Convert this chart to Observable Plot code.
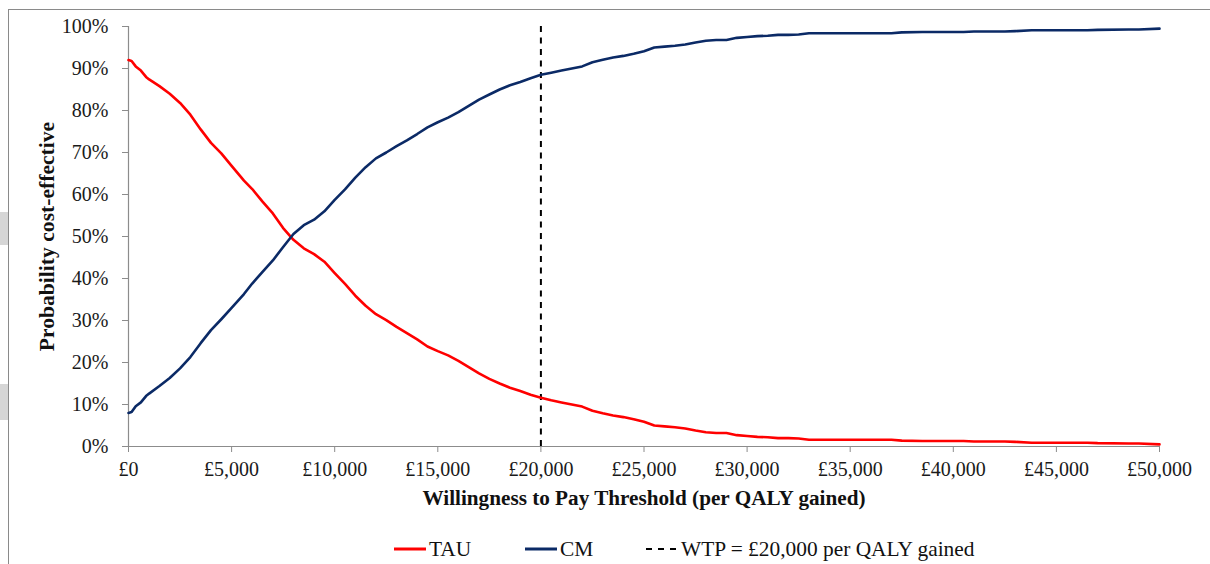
<!DOCTYPE html>
<html>
<head>
<meta charset="utf-8">
<script src="https://cdn.jsdelivr.net/npm/d3@7"></script>
<script src="https://cdn.jsdelivr.net/npm/@observablehq/plot@0.6"></script>
<style>
  html, body { margin: 0; padding: 0; background: #fff; }
  #wrap { position: relative; width: 1210px; height: 564px; overflow: hidden; font-family: "Liberation Serif", "Times New Roman", serif; }
  #frame { position: absolute; left: 8px; top: 9px; width: 1300px; height: 700px; border-top: 1px solid #8a8a8a; border-left: 1px solid #8a8a8a; }
  .blob { position: absolute; left: 0; width: 8px; background: #d6d6d6; }
  #chart { position: absolute; left: 0; top: 0; }
  #legend { position: absolute; top: 536px; left: 0; width: 1210px; height: 26px; font-size: 21.4px; color: #111; }
  .item { position: absolute; top: 0; display: flex; align-items: center; height: 26px; white-space: nowrap; }
  .item svg { margin-right: 3px; }
</style>
</head>
<body>
<div id="wrap">
  <div id="frame"></div>
  <div class="blob" style="top:212px;height:33px"></div>
  <div class="blob" style="top:384px;height:36px"></div>
  <div id="chart"></div>
  <div id="legend"></div>
</div>
<script>
// Willingness-to-pay thresholds (£)
const wtp = [0,150,350,600,850,1000,1500,2000,2500,3000,3500,4000,4500,5000,5600,6000,6500,7000,7500,8000,8500,9000,9500,10000,10500,11000,11500,12000,12500,13000,13500,14000,14500,15000,15500,16000,16500,17000,17500,18000,18500,19000,19500,20000,20500,21000,22000,22500,23000,23500,24000,24500,25000,25500,26000,26500,27000,27500,28000,28500,29000,29500,30000,30500,31000,31500,32000,32500,33000,35000,37000,37500,38500,40500,41000,42500,43000,43800,46500,47000,48500,49000,50000];
// Probability cost-effective (%) — TAU
const tau = [92,91.8,90.5,89.5,88,87.4,85.8,84,81.8,79,75.5,72.3,69.8,66.8,63.3,61.3,58.3,55.5,52,49.2,47.2,45.8,44,41.3,38.7,35.9,33.5,31.5,30.1,28.5,27,25.5,23.8,22.7,21.7,20.4,18.9,17.4,16.1,15,14,13.2,12.3,11.6,11,10.5,9.5,8.5,7.9,7.4,7,6.5,5.9,5.0,4.8,4.6,4.3,3.8,3.4,3.2,3.2,2.7,2.5,2.3,2.2,2.0,2.0,1.9,1.6,1.6,1.6,1.4,1.3,1.3,1.2,1.2,1.1,0.9,0.9,0.8,0.7,0.7,0.5];
// Probability cost-effective (%) — CM
const cm = [8,8.2,9.6,10.5,12.0,12.6,14.4,16.3,18.6,21.3,24.6,27.7,30.3,33,36.3,38.8,41.6,44.3,47.5,50.6,52.7,54,56,58.7,61.2,64,66.5,68.6,70,71.5,72.9,74.4,76,77.2,78.3,79.6,81.1,82.6,83.8,85,86,86.8,87.7,88.5,89,89.5,90.5,91.5,92.1,92.6,93,93.5,94.1,95.0,95.2,95.4,95.7,96.2,96.6,96.8,96.8,97.3,97.5,97.7,97.8,98.0,98.0,98.1,98.4,98.4,98.4,98.6,98.7,98.7,98.8,98.8,98.9,99.1,99.1,99.2,99.3,99.3,99.5];
const xTicks = [0,5000,10000,15000,20000,25000,30000,35000,40000,45000,50000];
const yTicks = [0,10,20,30,40,50,60,70,80,90,100];
const wtpLine = [20000];
const seriesNames = ["TAU", "CM"];
const seriesColors = ["#FF0000", "#0B2A66"];
const xTitle = "Willingness to Pay Threshold (per QALY gained)";
const yTitle = "Probability cost-effective";
const wtpLabel = "WTP = £20,000 per QALY gained";

const rows = [];
wtp.forEach((w, i) => {
  rows.push({wtp: w, p: tau[i], s: "TAU"});
  rows.push({wtp: w, p: cm[i], s: "CM"});
});

const fmtGBP = d => "£" + d3.format(",")(d);
const axisColor = "#8c8c8c";

const chart = Plot.plot({
  width: 1210,
  height: 525,
  marginLeft: 128,
  marginRight: 51,
  marginTop: 26,
  marginBottom: 79,
  style: { fontFamily: "Liberation Serif, Times New Roman, serif", fontSize: "20px", color: "#1a1a1a", background: "transparent", overflow: "visible" },
  x: { domain: [0, 50000] },
  y: { domain: [0, 100] },
  color: { domain: seriesNames, range: seriesColors },
  marks: [
    Plot.axisY({ ticks: yTicks, tickFormat: d => d + "%", tickSize: 6, tickPadding: 14, stroke: axisColor, fill: "#1a1a1a", fontSize: 20, label: null }),
    Plot.axisX({ ticks: xTicks, tickFormat: fmtGBP, tickSize: 6, tickPadding: 9, stroke: axisColor, fill: "#1a1a1a", fontSize: 20, label: null }),
    Plot.ruleX([0], { stroke: axisColor, strokeWidth: 1.2 }),
    Plot.ruleY([0], { stroke: axisColor, strokeWidth: 1.2 }),
    Plot.ruleX(wtpLine, { stroke: "#000", strokeWidth: 2, strokeDasharray: "6,5.5" }),
    Plot.line(rows, { x: "wtp", y: "p", z: "s", stroke: "s", strokeWidth: 2.6, curve: "linear" }),
    Plot.text([xTitle], { frameAnchor: "bottom", dy: 52, fontWeight: "bold", fontSize: 21.2, fill: "#111", lineAnchor: "middle", textAnchor: "middle" }),
    Plot.text([yTitle], { frameAnchor: "left", dx: -81, rotate: -90, fontWeight: "bold", fontSize: 21.6, fill: "#111", lineAnchor: "middle", textAnchor: "middle" })
  ]
});
document.getElementById("chart").appendChild(chart);

// Legend
const legend = document.getElementById("legend");
const items = [
  { label: seriesNames[0], color: seriesColors[0], dash: null, left: 394 },
  { label: seriesNames[1], color: seriesColors[1], dash: null, left: 525 },
  { label: wtpLabel, color: "#000", dash: "6,6", left: 646 }
];
items.forEach(it => {
  const d = document.createElement("div");
  d.className = "item";
  d.style.left = it.left + "px";
  d.innerHTML = `<svg width="32" height="10"><line x1="0" x2="32" y1="5" y2="5" stroke="${it.color}" stroke-width="${it.dash ? 2 : 3}" ${it.dash ? `stroke-dasharray="${it.dash}"` : ""}/></svg><span>${it.label}</span>`;
  legend.appendChild(d);
});
</script>
</body>
</html>
